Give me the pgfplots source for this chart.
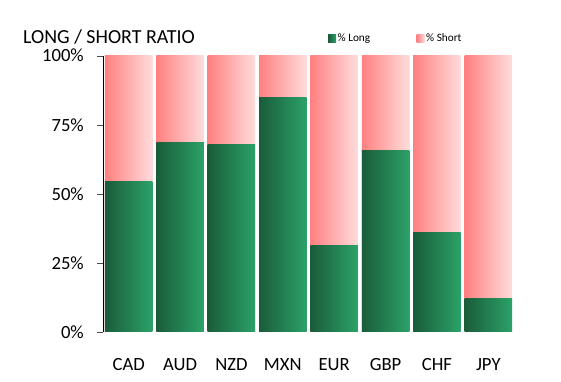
\documentclass[border=0pt]{standalone}
\usepackage{pgfplots}
\usepackage{pgfplotstable}
\pgfplotsset{compat=1.18}
\usepackage{fontspec}
\setmainfont{Carlito}
\definecolor{gdark}{HTML}{1A5C3A}
\definecolor{glight}{HTML}{2BA268}
\definecolor{pdark}{HTML}{FF8080}
\definecolor{plight}{HTML}{FFDCDC}
\pgfplotstableread{
x long short
0 54.7 45.3
1 68.8 31.2
2 68.1 31.9
3 85.1 14.9
4 31.5 68.5
5 65.9 34.1
6 36.2 63.8
7 12.3 87.7
}\ratio
\begin{document}
\begin{tikzpicture}
\useasboundingbox (-103bp,-50bp) rectangle (458bp,332bp);
\begin{axis}[
  at={(0,0)}, anchor=south west,
  scale only axis,
  width=411bp, height=276bp,
  ybar, bar width=47.5bp, bar shift=0pt,
  xmin=-0.5, xmax=7.5, ymin=0, ymax=100,
  axis lines*=left,
  x axis line style={draw=none},
  y axis line style={black, line width=0.8bp},
  xtick={0,...,7},
  xticklabels={CAD,AUD,NZD,MXN,EUR,GBP,CHF,JPY},
  major x tick style={draw=none},
  ytick={0,25,50,75,100},
  yticklabels={0\%,25\%,50\%,75\%,{\raisebox{1bp}{100\%}}},
  tick align=outside,
  major tick length=6bp,
  major y tick style={black!70, line width=0.8bp},
  /pgf/number format/assume math mode=true,
  ticklabel style={font=\fontsize{18.7}{20}\selectfont},
  yticklabel style={anchor=east, inner sep=0pt, xshift=-13bp},
  xticklabel style={anchor=base, inner sep=0pt, yshift=-32bp},
  legend columns=2,
  legend style={at={(rel axis cs:0,1)}, anchor=west, xshift=225bp, yshift=17.5bp,
    draw=none, fill=none, inner sep=0pt,
    font=\fontsize{11.3}{12}\selectfont,
    nodes={inner sep=1.5bp},
    /tikz/every even column/.append style={column sep=45bp}},
  legend image code/.code={\path[#1] (0bp,-4bp) rectangle (8bp,4bp);},
  clip=false,
]
\addlegendimage{draw=none, left color=gdark, right color=glight}
\addlegendentry{\% Long}
\addlegendimage{draw=none, left color=pdark, right color=plight}
\addlegendentry{\% Short}
\pgfplotsinvokeforeach{0,...,7}{
  \addplot[forget plot, draw=none, left color=pdark, right color=plight,
    restrict x to domain=#1:#1]
    table[x=x, y expr=\thisrow{long}+\thisrow{short}]{\ratio};
  \addplot[forget plot, draw=none, left color=gdark, right color=glight,
    restrict x to domain=#1:#1]
    table[x=x, y=long]{\ratio};
}
\node[anchor=base west, inner sep=0pt, font=\fontsize{20}{21}\selectfont]
  at ([xshift=-80bp, yshift=12bp] rel axis cs:0,1) {LONG / SHORT RATIO};
\end{axis}
\end{tikzpicture}
\end{document}
